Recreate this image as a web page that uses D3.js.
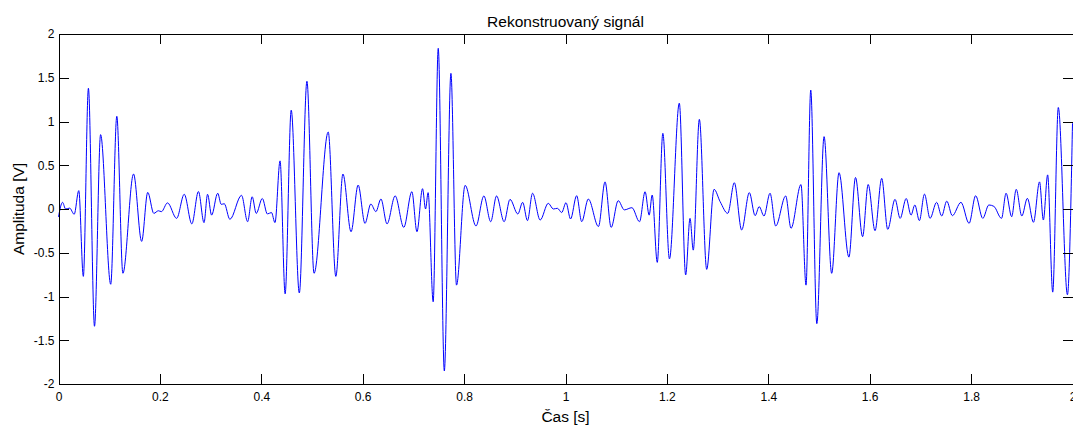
<!DOCTYPE html>
<html>
<head>
<meta charset="utf-8">
<script src="https://cdn.jsdelivr.net/npm/d3@7"></script>
<style>
  body { margin: 0; background: #fff; }
  #chart svg { display: block; }
  .axis text { font-family: "Liberation Sans", Arial, sans-serif; font-size: 12px; fill: #000; }
  .axis path, .axis line { stroke: #000; shape-rendering: crispEdges; }
  .lbl { font-family: "Liberation Sans", Arial, sans-serif; font-size: 15.5px; fill: #000; }
</style>
</head>
<body>
<div id="chart"></div>
<script>
// extrema (time in s, amplitude in V)
var timeS = [
  0.000, 0.008, 0.014, 0.022, 0.031, 0.040, 0.049, 0.059, 0.071, 0.083,
  0.103, 0.115, 0.127, 0.148, 0.164, 0.176, 0.188, 0.197, 0.203, 0.215,
  0.233, 0.248, 0.263, 0.276, 0.287, 0.294, 0.302, 0.314, 0.321, 0.327,
  0.338, 0.361, 0.373, 0.382, 0.390, 0.402, 0.412, 0.420, 0.427, 0.437,
  0.447, 0.459, 0.475, 0.490, 0.504, 0.532, 0.547, 0.561, 0.577, 0.591,
  0.6045, 0.616, 0.626, 0.636, 0.648, 0.664, 0.681, 0.697, 0.707, 0.718,
  0.724, 0.729, 0.739, 0.749, 0.761, 0.774, 0.785, 0.802, 0.8235, 0.839,
  0.8525, 0.864, 0.879, 0.8905, 0.906, 0.9155, 0.925, 0.935, 0.950, 0.966,
  0.976, 0.984, 0.9925, 1.001, 1.010, 1.022, 1.032, 1.045, 1.065, 1.078,
  1.090, 1.104, 1.116, 1.131, 1.146, 1.157, 1.165, 1.171, 1.181, 1.192,
  1.205, 1.2245, 1.237, 1.2456, 1.252, 1.264, 1.2785, 1.293, 1.305, 1.320,
  1.333, 1.3475, 1.3626, 1.374, 1.382, 1.3915, 1.4034, 1.4146, 1.4343, 1.4448,
  1.4645, 1.4744, 1.4837, 1.4957, 1.510, 1.525, 1.5395, 1.559, 1.572, 1.586,
  1.597, 1.6105, 1.6237, 1.6355, 1.650, 1.660, 1.672, 1.6815, 1.689, 1.698,
  1.708, 1.719, 1.732, 1.742, 1.752, 1.763, 1.780, 1.796, 1.809, 1.823,
  1.835, 1.845, 1.860, 1.869, 1.880, 1.889, 1.900, 1.911, 1.923, 1.935,
  1.9425, 1.951, 1.961, 1.972, 1.990, 2.000
];
var amplitudeV = [
  -0.09, 0.076, 0.00, 0.01, -0.06, 0.21, -0.77, 1.38, -1.34, 0.85,
  -0.86, 1.06, -0.735, 0.40, -0.37, 0.19, -0.05, -0.02, -0.03, 0.07,
  -0.107, 0.168, -0.17, 0.20, -0.156, 0.168, -0.07, 0.18, 0.053, 0.06,
  -0.118, 0.156, -0.145, 0.14, -0.05, 0.12, -0.057, -0.04, -0.156, 0.55,
  -0.97, 1.13, -0.96, 1.46, -0.735, 0.88, -0.77, 0.40, -0.26, 0.274,
  -0.164, 0.057, -0.03, 0.114, -0.17, 0.15, -0.21, 0.198, -0.26, 0.232,
  0.00, 0.187, -1.06, 1.836, -1.85, 1.55, -0.87, 0.27, -0.194, 0.149,
  -0.145, 0.149, -0.145, 0.11, -0.057, 0.076, -0.133, 0.18, -0.126, 0.065,
  0.00, 0.008, -0.04, 0.072, -0.114, 0.152, -0.145, 0.114, -0.20, 0.31,
  -0.21, 0.095, -0.01, 0.015, -0.145, 0.198, -0.07, 0.16, -0.61, 0.865,
  -0.57, 1.21, -0.754, -0.107, -0.47, 1.025, -0.69, 0.225, 0.084, -0.05,
  0.30, -0.24, 0.187, -0.076, 0.027, -0.08, 0.18, -0.194, 0.149, -0.22,
  0.28, -0.87, 1.36, -1.31, 0.827, -0.735, 0.415, -0.55, 0.36, -0.316,
  0.28, -0.248, 0.35, -0.232, 0.11, -0.107, 0.12, -0.07, 0.046, -0.133,
  0.17, -0.107, 0.076, -0.08, 0.09, -0.076, 0.076, -0.164, 0.152, -0.107,
  0.046, 0.03, -0.107, 0.18, -0.088, 0.225, -0.08, 0.122, -0.152, 0.31,
  -0.126, 0.39, -0.95, 1.16, -0.98, 0.98
];
var xTicks = [0, 0.2, 0.4, 0.6, 0.8, 1, 1.2, 1.4, 1.6, 1.8, 2];
var yTicks = [-2, -1.5, -1, -0.5, 0, 0.5, 1, 1.5, 2];

var width = 1073, height = 425;
var margin = {left: 58.5, top: 34, right: 0.5, bottom: 41};
var plotW = width - margin.left - margin.right;
var plotH = height - margin.top - margin.bottom;

var svg = d3.select("#chart").append("svg")
    .attr("width", width)
    .attr("height", height);

var chart = svg.append("g")
    .attr("transform", "translate(" + margin.left + "," + margin.top + ")");

var x = d3.scaleLinear().domain([0, 2]).range([0, plotW]);
var y = d3.scaleLinear().domain([-2, 2]).range([plotH, 0]);

var data = timeS.map(function(t, i) { return {t: t, v: amplitudeV[i]}; });

chart.append("path")
    .datum(data)
    .attr("fill", "none")
    .attr("stroke", "#0000ff")
    .attr("stroke-width", 1)
    .attr("d", d3.line()
      .x(function(d) { return x(d.t); })
      .y(function(d) { return y(d.v); })
      .curve(d3.curveMonotoneX));

// box with inward ticks on all four sides
chart.append("g").attr("class", "axis")
    .attr("transform", "translate(0," + plotH + ")")
    .call(d3.axisBottom(x).tickValues(xTicks).tickSizeInner(-10).tickSizeOuter(0).tickPadding(8)
      .tickFormat(d3.format("")));
chart.append("g").attr("class", "axis")
    .call(d3.axisTop(x).tickValues(xTicks).tickSizeInner(-10).tickSizeOuter(0).tickFormat(""));
chart.append("g").attr("class", "axis")
    .call(d3.axisLeft(y).tickValues(yTicks).tickSizeInner(-10).tickSizeOuter(0).tickPadding(4)
      .tickFormat(function(d) { return String(d); }));
chart.append("g").attr("class", "axis")
    .attr("transform", "translate(" + plotW + ",0)")
    .call(d3.axisRight(y).tickValues(yTicks).tickSizeInner(-10).tickSizeOuter(0).tickFormat(""));

svg.append("text").attr("class", "lbl")
    .attr("x", margin.left + plotW / 2).attr("y", 27)
    .attr("text-anchor", "middle")
    .text("Rekonstruovaný signál");

svg.append("text").attr("class", "lbl")
    .attr("x", margin.left + plotW / 2).attr("y", 422)
    .attr("text-anchor", "middle")
    .text("Čas [s]");

svg.append("text").attr("class", "lbl")
    .attr("transform", "translate(24," + (margin.top + plotH / 2) + ") rotate(-90)")
    .attr("text-anchor", "middle")
    .text("Amplituda [V]");
</script>
</body>
</html>
